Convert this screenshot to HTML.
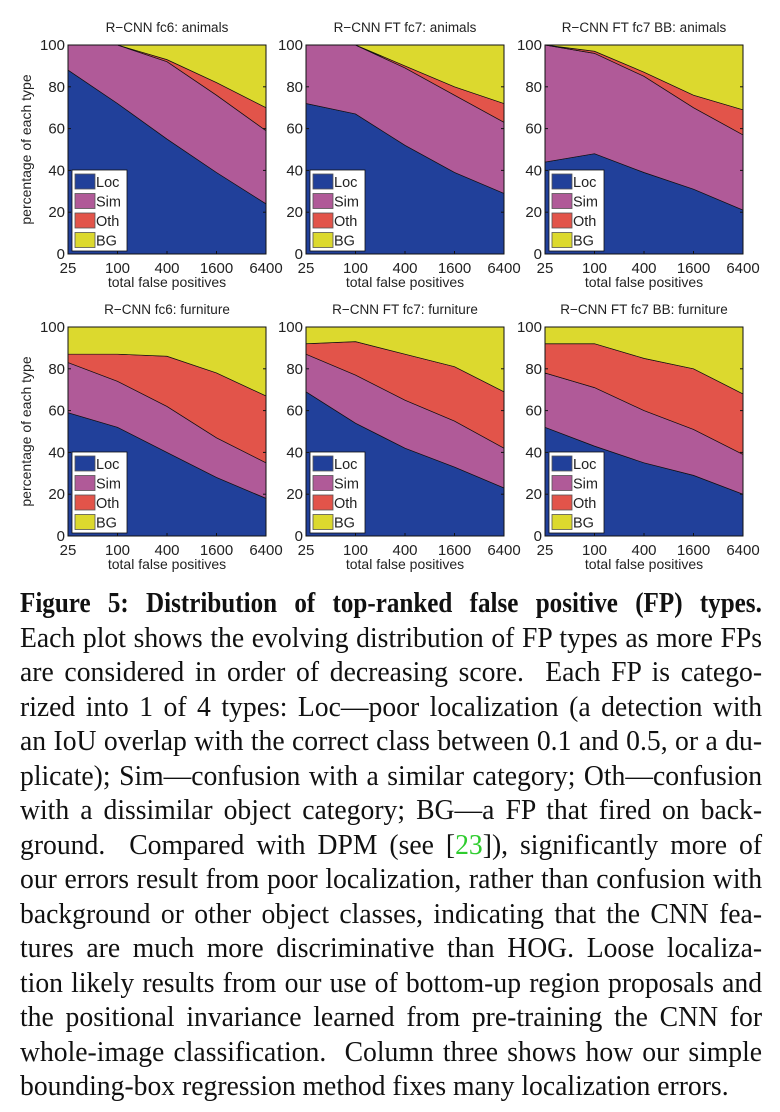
<!DOCTYPE html>
<html><head><meta charset="utf-8">
<style>
body{margin:0;background:#fff;width:780px;height:1112px;overflow:hidden;position:relative}
svg text{font-family:"Liberation Sans",sans-serif;fill:#222}
.cap{position:absolute;left:20px;width:765px;transform:scaleX(0.97);transform-origin:0 0;font-family:"Liberation Serif",serif;font-size:28.5px;line-height:34.5px;color:#111;white-space:nowrap;text-align:justify;text-align-last:justify}
</style></head><body>
<svg id="fig" width="780" height="580" style="position:absolute;left:0;top:0"></svg>
<div>
<div class="cap" style="top:587px;font-weight:bold;width:843px;transform:scaleX(0.88)">Figure 5: Distribution of top-ranked false positive (FP) types.</div>
<div class="cap" style="top:621.5px">Each plot shows the evolving distribution of FP types as more FPs</div>
<div class="cap" style="top:656px">are considered in order of decreasing score. &nbsp;Each FP is catego-</div>
<div class="cap" style="top:690.5px">rized into 1 of 4 types: Loc—poor localization (a detection with</div>
<div class="cap" style="top:725px">an IoU overlap with the correct class between 0.1 and 0.5, or a du-</div>
<div class="cap" style="top:759.5px">plicate); Sim—confusion with a similar category; Oth—confusion</div>
<div class="cap" style="top:794px">with a dissimilar object category; BG—a FP that fired on back-</div>
<div class="cap" style="top:828.5px">ground. &nbsp;Compared with DPM (see [<span style="color:#2ecc2e">23</span>]), significantly more of</div>
<div class="cap" style="top:863px">our errors result from poor localization, rather than confusion with</div>
<div class="cap" style="top:897.5px">background or other object classes, indicating that the CNN fea-</div>
<div class="cap" style="top:932px">tures are much more discriminative than HOG. Loose localiza-</div>
<div class="cap" style="top:966.5px">tion likely results from our use of bottom-up region proposals and</div>
<div class="cap" style="top:1001px">the positional invariance learned from pre-training the CNN for</div>
<div class="cap" style="top:1035.5px">whole-image classification. &nbsp;Column three shows how our simple</div>
<div class="cap" style="top:1070px;text-align:left;text-align-last:left">bounding-box regression method fixes many localization errors.</div>
</div>
<script>
const xTicks=["25","100","400","1600","6400"];
const yTicks=[0,20,40,60,80,100];
const titles=["R\u2212CNN fc6: animals","R\u2212CNN FT fc7: animals","R\u2212CNN FT fc7 BB: animals","R\u2212CNN fc6: furniture","R\u2212CNN FT fc7: furniture","R\u2212CNN FT fc7 BB: furniture"];
// cumulative boundaries per plot
const locTop=[[88,72,55,39,24],[72,67,52,39,29],[44,48,39,31,21],[59,52,40,28,18],[69,54,42,33,23],[52,43,35,29,20]];
const simTop=[[100,100,92,76,59],[100,100,89,76,63],[100,96,85,70,57],[83,74,62,47,35],[87,77,65,55,42],[78,71,60,51,39]];
const othTop=[[100,100,93,82,70],[100,100,90,80,72],[100,97,87,76,69],[87,87,86,78,67],[92,93,87,81,69],[92,92,85,80,68]];
const legendNames=["Loc","Sim","Oth","BG"];
const colors=["#21409a","#b05a98","#e2544a","#dcd92e"];
const NS="http://www.w3.org/2000/svg";
const svg=document.getElementById('fig');
function mk(tag,attrs,parent){const e=document.createElementNS(NS,tag);for(const k in attrs)e.setAttribute(k,attrs[k]);(parent||svg).appendChild(e);return e;}
const lefts=[68,306,545],tops=[45,327],W=198,H=209;
for(let p=0;p<6;p++){
  const L=lefts[p%3],T=tops[Math.floor(p/3)];
  const g=mk('g',{});
  
  
  const xs=i=>L+i*W/(xTicks.length-1);
  const ys=v=>T+H-v*H/100;
  const layers=[xTicks.map(()=>0),locTop[p],simTop[p],othTop[p],xTicks.map(()=>100)];
  for(let k=0;k<4;k++){
    let d='';
    layers[k+1].forEach((v,i)=>{d+=(i?'L':'M')+xs(i)+' '+ys(v)+' ';});
    for(let i=xTicks.length-1;i>=0;i--)d+='L'+xs(i)+' '+ys(layers[k][i])+' ';
    const a=mk('path',{d:d+'Z',fill:colors[k],stroke:'#111','stroke-width':0.7},g);
    
    
  }
  mk('rect',{x:L,y:T,width:W,height:H,fill:'none',stroke:'#111','stroke-width':1},g);
  yTicks.forEach(v=>{
    mk('line',{x1:L,x2:L+3,y1:ys(v),y2:ys(v),stroke:'#111'},g);
    mk('line',{x1:L+W-3,x2:L+W,y1:ys(v),y2:ys(v),stroke:'#111'},g);
    const t=mk('text',{x:L-3,y:ys(v)+5,'text-anchor':'end','font-size':15},g);t.textContent=v;
    
    
  });
  xTicks.forEach((s,i)=>{
    mk('line',{x1:xs(i),x2:xs(i),y1:T+H,y2:T+H-3,stroke:'#111'},g);
    const t=mk('text',{x:xs(i),y:T+H+19,'text-anchor':'middle','font-size':15},g);t.textContent=s;
    
    
  });
  const xl=mk('text',{x:L+W/2,y:T+H+33,'text-anchor':'middle','font-size':14},g);xl.textContent='total false positives';
  
  
  const tt=mk('text',{x:L+W/2,y:T-13,'text-anchor':'middle','font-size':13.5},g);tt.textContent=titles[p];
  
  
  if(p%3===0){
    const yl=mk('text',{x:0,y:0,'text-anchor':'middle','font-size':14,transform:`translate(${L-37},${T+H/2}) rotate(-90)`},g);yl.textContent='percentage of each type';
    
    
  }
  const lg=mk('g',{},g);
  
  
  mk('rect',{x:L+4,y:T+125,width:55,height:81,fill:'#fff',stroke:'#111','stroke-width':0.8},lg);
  legendNames.forEach((n,k)=>{
    const e=mk('g',{},lg);
    
    
    mk('rect',{x:L+7,y:T+129+k*19.5,width:20,height:15,fill:colors[k],stroke:'#555','stroke-width':0.8},e);
    const t=mk('text',{x:L+28,y:T+142+k*19.5,'font-size':14.5},e);t.textContent=n;
  });
}
</script>
</body></html>
